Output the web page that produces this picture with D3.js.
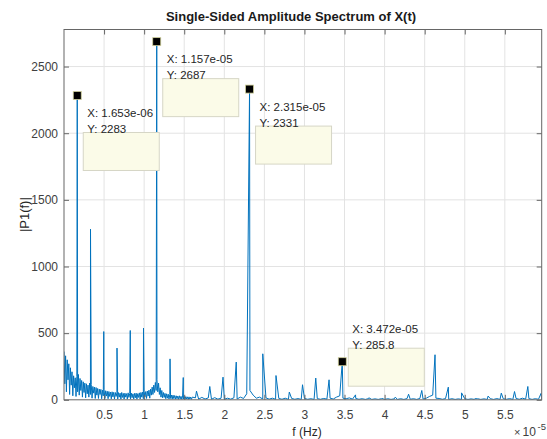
<!DOCTYPE html>
<html lang="en">
<head>
  <meta charset="utf-8">
  <title>Single-Sided Amplitude Spectrum of X(t)</title>
  <script src="https://d3js.org/d3.v7.min.js"></script>
  <style>
    body { margin: 0; background: #fff; }
    #chart text { font-family: "Liberation Sans", Arial, sans-serif; }
    .grid line { stroke: #e3e3e3; stroke-width: 1; }
    .axis line { stroke: #666; }
    .axis text { fill: #404040; font-size: 12px; }
  </style>
</head>
<body>
  <div id="chart"></div>

  <script>
    "use strict"

    // frequencies are in units of 1e-5 Hz
    // noise floor below 1.6e-5, sampled every 0.01e-5
    var noiseLowStep = 0.01;
    var noiseLow = [
      362, 120, 330, 60, 300, 150, 270, 40, 240, 110,
      210, 30, 180, 90, 165, 25, 175, 60, 190, 35,
      160, 70, 145, 20, 135, 55, 125, 15, 120, 45,
      110, 20, 125, 40, 115, 12, 100, 50, 95, 10,
      92, 35, 85, 10, 80, 40, 78, 8, 72, 30,
      75, 10, 68, 28, 64, 8, 62, 25, 58, 7,
      60, 22, 56, 6, 55, 25, 52, 6, 54, 20,
      50, 5, 55, 18, 48, 6, 50, 20, 46, 5,
      52, 18, 47, 5, 50, 16, 45, 6, 48, 15,
      50, 5, 46, 18, 52, 6, 55, 20, 58, 8,
      60, 22, 62, 10, 66, 28, 72, 12, 80, 35,
      95, 40, 110, 55, 130, 70, 150, 60, 125, 40,
      90, 20, 70, 15, 55, 18, 48, 8, 45, 12,
      42, 6, 40, 10, 36, 5, 35, 9, 32, 5,
      30, 8, 28, 4, 30, 7, 26, 4, 28, 6,
      25, 4, 24, 6, 22, 3, 22, 5, 20, 3,
      20
    ];

    // noise floor from 1.64e-5 on, sampled every 0.04e-5
    var noiseHighStart = 1.64, noiseHighStep = 0.04;
    var noiseHigh = [
      15, 5, 18, 6, 14, 4, 16, 5, 12, 4,
      12, 5, 15, 6, 20, 10, 45, 70, 35, 12,
      20, 6, 14, 5, 12, 4, 10, 4, 12, 3,
      10, 4, 9, 3, 10, 4, 8, 3, 9, 4,
      10, 5, 12, 6, 20, 30, 12, 8, 14, 5,
      10, 4, 8, 3, 9, 3, 7, 3, 8, 3,
      8, 3, 7, 3, 8, 3, 9, 4, 8, 3,
      10, 5, 12, 25, 35, 12, 10, 4, 9, 3,
      8, 3, 7, 3, 8, 3, 7, 3, 8, 3,
      7, 3, 8, 3, 9, 3, 8, 4, 9, 3,
      10, 4, 12, 5, 9, 3, 8, 4, 6
    ];

    // spectral lines (weekly harmonics)
    var spikeFreqs = [
      0.1653, 0.3307, 0.4960, 0.6613, 0.8267, 0.9920, 1.157, 1.323, 1.488, 1.653,
      1.819, 1.984, 2.149, 2.315, 2.480, 2.645, 2.811, 2.976, 3.141, 3.307,
      3.472, 3.637, 3.803, 3.968, 4.133, 4.299, 4.464, 4.629, 4.795, 4.960,
      5.125, 5.291, 5.456, 5.621, 5.787, 5.952
    ];
    var spikeAmps = [
      2283, 1280, 512, 388, 520, 538, 2687, 307, 167, 65,
      100, 170, 283, 2331, 345, 182, 58, 113, 163, 150,
      285.8, 37, 15, 10, 20, 42, 70, 338, 95, 52,
      8, 28, 50, 62, 100, 48
    ];

    // data tips
    var tipFreqs = [0.1653, 1.157, 2.315, 3.472];
    var tipAmps = [2283, 2687, 2331, 285.8];
    var tipXText = ["X: 1.653e-06", "X: 1.157e-05", "X: 2.315e-05", "X: 3.472e-05"];
    var tipYText = ["Y: 2283", "Y: 2687", "Y: 2331", "Y: 285.8"];

    var xTicks = [0.5, 1, 1.5, 2, 2.5, 3, 3.5, 4, 4.5, 5, 5.5];
    var xTickLabels = ["0.5", "1", "1.5", "2", "2.5", "3", "3.5", "4", "4.5", "5", "5.5"];
    var yTicks = [0, 500, 1000, 1500, 2000, 2500];

    var larguraSVG = 547, alturaSVG = 439;
    var plot = {left: 64, right: 541.7, top: 29.5, bottom: 399.8};

    var svg = d3.select('#chart')
      .append('svg')
        .attr('width', larguraSVG)
        .attr('height', alturaSVG);

    var x = d3.scaleLinear().domain([0, 5.96]).range([plot.left, plot.right]);
    var y = d3.scaleLinear().domain([0, 2778]).range([plot.bottom, plot.top]);

    // grid
    var grid = svg.append('g').attr('class', 'grid');
    grid.selectAll('.gx').data(xTicks).enter().append('line')
      .attr('x1', d => x(d)).attr('x2', d => x(d))
      .attr('y1', plot.top).attr('y2', plot.bottom);
    grid.selectAll('.gy').data(yTicks.slice(1)).enter().append('line')
      .attr('x1', plot.left).attr('x2', plot.right)
      .attr('y1', d => y(d)).attr('y2', d => y(d));

    // series: noise + lines, merged by frequency
    var pontos = [];
    noiseLow.forEach((v, i) => pontos.push({f: i * noiseLowStep, a: v}));
    noiseHigh.forEach((v, i) => pontos.push({f: noiseHighStart + i * noiseHighStep, a: v}));
    spikeFreqs.forEach((f, i) => pontos.push({f: f, a: spikeAmps[i]}));
    pontos.sort((p, q) => p.f - q.f);

    svg.append('defs').append('clipPath').attr('id', 'clip')
      .append('rect')
        .attr('x', plot.left).attr('y', plot.top)
        .attr('width', plot.right - plot.left).attr('height', plot.bottom - plot.top);

    svg.append('path')
      .datum(pontos)
      .attr('clip-path', 'url(#clip)')
      .attr('fill', 'none')
      .attr('stroke', '#0072bd')
      .attr('stroke-width', 1)
      .attr('d', d3.line().x(d => x(d.f)).y(d => y(d.a)));

    // axes (ticks point inward)
    svg.append('g').attr('class', 'axis')
      .attr('transform', 'translate(0,' + plot.bottom + ')')
      .call(d3.axisBottom(x).tickValues(xTicks).tickFormat((d, i) => xTickLabels[i])
        .tickSizeInner(-5).tickSizeOuter(0).tickPadding(11));
    svg.append('g').attr('class', 'axis')
      .attr('transform', 'translate(0,' + plot.top + ')')
      .call(d3.axisTop(x).tickValues(xTicks).tickFormat('').tickSizeInner(-5).tickSizeOuter(0));
    svg.append('g').attr('class', 'axis')
      .attr('transform', 'translate(' + plot.left + ',0)')
      .call(d3.axisLeft(y).tickValues(yTicks).tickFormat(d3.format('d'))
        .tickSizeInner(-5).tickSizeOuter(0).tickPadding(6));
    svg.append('g').attr('class', 'axis')
      .attr('transform', 'translate(' + plot.right + ',0)')
      .call(d3.axisRight(y).tickValues(yTicks).tickFormat('').tickSizeInner(-5).tickSizeOuter(0));
    svg.selectAll('.axis .domain').remove();

    svg.append('rect')
      .attr('x', plot.left).attr('y', plot.top)
      .attr('width', plot.right - plot.left).attr('height', plot.bottom - plot.top)
      .attr('fill', 'none').attr('stroke', '#666').attr('stroke-width', 1);

    // labels
    svg.append('text')
      .attr('x', 291).attr('y', 21)
      .attr('text-anchor', 'middle')
      .style('font-size', '13px').style('font-weight', 'bold').attr('fill', '#1a1a1a')
      .text('Single-Sided Amplitude Spectrum of X(t)');

    svg.append('text')
      .attr('x', 307).attr('y', 435.5)
      .attr('text-anchor', 'middle')
      .style('font-size', '12px').attr('fill', '#262626')
      .text('f (Hz)');

    svg.append('text')
      .attr('transform', 'translate(29,' + ((plot.top + plot.bottom) / 2) + ') rotate(-90)')
      .attr('text-anchor', 'middle')
      .style('font-size', '13px').attr('fill', '#262626')
      .text('|P1(f)|');

    // x10^-5 exponent
    svg.append('text').attr('x', 514).attr('y', 436)
      .style('font-size', '11px').attr('fill', '#404040').text('\u00d7');
    svg.append('text').attr('x', 522.5).attr('y', 436)
      .style('font-size', '12px').attr('fill', '#404040').text('10');
    svg.append('text').attr('x', 537.5).attr('y', 429.5)
      .style('font-size', '9.5px').attr('fill', '#404040').text('-5');

    // data tips (layout: box offset from the marker)
    var tipBoxDy = [37, 37, 37, -13.5];
    var tips = svg.append('g');
    tipFreqs.forEach((f, i) => {
      var mx = x(f), my = y(tipAmps[i]);
      var bx = mx + 6, by = my + tipBoxDy[i];
      tips.append('rect')
        .attr('x', bx).attr('y', by).attr('width', 76).attr('height', 38)
        .attr('fill', '#fbfbe8').attr('stroke', '#d6d6c6').attr('stroke-width', 1);
      tips.append('text').attr('x', bx + 4).attr('y', by - 15.5)
        .style('font-size', '11.5px').attr('fill', '#262626').text(tipXText[i]);
      tips.append('text').attr('x', bx + 4).attr('y', by + 0.5)
        .style('font-size', '11.5px').attr('fill', '#262626').text(tipYText[i]);
      tips.append('rect')
        .attr('x', mx - 4).attr('y', my - 4).attr('width', 8).attr('height', 8)
        .attr('fill', '#000').attr('stroke', '#cfcf9a').attr('stroke-width', 0.8);
    });
  </script>
</body>
</html>
